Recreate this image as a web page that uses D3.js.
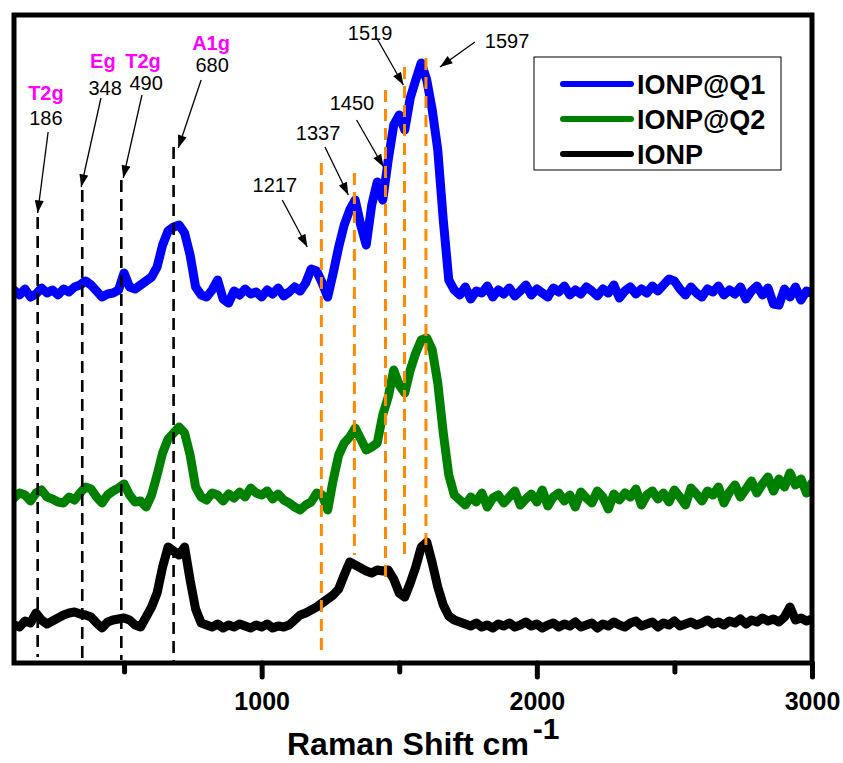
<!DOCTYPE html>
<html>
<head>
<meta charset="utf-8">
<script src="https://cdn.jsdelivr.net/npm/d3@7"></script>
<style>
  body { margin: 0; background: #fff; }
  svg { display: block; font-family: "Liberation Sans", Arial, Helvetica, sans-serif; }
</style>
</head>
<body>
<svg id="chart" width="843" height="763"></svg>
<script>
// Raman shift axis (cm-1)
const wavenumbers = [
  100, 120, 140, 160, 180, 200, 220, 240, 260, 280,
  300, 320, 340, 360, 380, 400, 420, 440, 460, 480,
  500, 520, 540, 560, 580, 600, 620, 640, 660, 680,
  700, 720, 740, 760, 780, 800, 820, 840, 860, 880,
  900, 920, 940, 960, 980, 1000, 1020, 1040, 1060, 1080,
  1100, 1120, 1140, 1160, 1180, 1200, 1220, 1240, 1260, 1280,
  1300, 1320, 1340, 1360, 1380, 1400, 1420, 1440, 1460, 1480,
  1500, 1520, 1540, 1560, 1580, 1600, 1620, 1640, 1660, 1680,
  1700, 1720, 1740, 1760, 1780, 1800, 1820, 1840, 1860, 1880,
  1900, 1920, 1940, 1960, 1980, 2000, 2020, 2040, 2060, 2080,
  2100, 2120, 2140, 2160, 2180, 2200, 2220, 2240, 2260, 2280,
  2300, 2320, 2340, 2360, 2380, 2400, 2420, 2440, 2460, 2480,
  2500, 2520, 2540, 2560, 2580, 2600, 2620, 2640, 2660, 2680,
  2700, 2720, 2740, 2760, 2780, 2800, 2820, 2840, 2860, 2880,
  2900, 2920, 2940, 2960, 2980, 3000
];

// Intensities (a.u., vertically offset spectra)
const ionpQ1 = [
  375, 370, 376, 368, 371, 377, 372, 375, 370, 376,
  373, 378, 380, 384, 380, 374, 368, 371, 372, 375,
  392, 378, 376, 380, 384, 388, 398, 420, 434, 438,
  440, 432, 410, 378, 370, 368, 375, 385, 366, 362,
  374, 370, 376, 371, 373, 368, 375, 371, 377, 369,
  373, 378, 374, 382, 396, 394, 382, 368, 392, 418,
  440, 455, 465, 440, 420, 460, 483, 465, 505, 540,
  550, 535, 567, 585, 602, 585, 555, 515, 445, 385,
  375, 370, 378, 366, 374, 372, 379, 368, 375, 371,
  377, 369, 374, 380, 370, 376, 372, 368, 377, 373,
  379, 370, 375, 371, 378, 374, 369, 376, 372, 380,
  367, 374, 378, 371, 376, 372, 379, 374, 380, 386,
  384, 376, 370, 378, 372, 368, 376, 373, 379, 370,
  375, 371, 378, 366, 374, 379, 370, 377, 361, 360,
  376, 368, 378, 365, 374, 372
];

const ionpQ2 = [
  167, 172, 170, 164, 172, 175, 168, 166, 163, 162,
  168, 165, 172, 178, 176, 168, 162, 170, 174, 177,
  181, 170, 163, 164, 158, 170, 190, 212, 226, 232,
  238, 232, 210, 178, 168, 165, 172, 170, 164, 171,
  167, 173, 168, 177, 172, 170, 174, 166, 171, 165,
  162, 158, 155, 160, 163, 172, 170, 155, 185, 210,
  222, 228, 237, 226, 215, 218, 222, 250, 268, 295,
  280, 272, 295, 312, 325, 327, 315, 282, 232, 190,
  170, 165, 160, 168, 163, 172, 158, 167, 170, 162,
  168, 174, 160, 166, 171, 163, 175, 159, 168, 172,
  164, 170, 158, 173, 167, 162, 174, 168, 156, 171,
  165, 172, 168, 176, 160, 170, 174, 166, 172, 163,
  175, 168, 160, 177, 171, 164, 174, 170, 178, 162,
  173, 180, 168, 176, 184, 172, 181, 188, 174, 186,
  178, 192, 180, 186, 172, 182
];

const ionp = [
  40, 38, 44, 42, 52, 45, 41, 44, 47, 50,
  52, 53, 51, 50, 48, 42, 37, 43, 45, 46,
  47, 45, 40, 38, 48, 58, 72, 98, 118, 114,
  110, 118, 85, 56, 42, 40, 38, 41, 37, 40,
  38, 41, 39, 37, 40, 38, 41, 37, 39, 38,
  40, 45, 50, 52, 55, 58, 62, 66, 70, 76,
  90, 103, 100, 97, 94, 92, 95, 94, 95, 86,
  72, 68, 82, 98, 118, 123, 102, 78, 60, 49,
  45, 43, 41, 39, 42, 38, 40, 37, 41, 39,
  42, 38, 40, 43, 39, 41, 37, 40, 42, 38,
  41, 39, 43, 38, 40, 42, 37, 41, 39, 43,
  40, 38, 42, 44, 39, 41, 43, 38, 42, 40,
  44, 39, 41, 43, 40, 42, 45, 41, 43, 40,
  44, 42, 46, 41, 45, 43, 47, 44, 46, 43,
  48, 58, 45, 47, 44, 46
];

const seriesNames = ["IONP@Q1", "IONP@Q2", "IONP"];
const seriesColors = ["#0000ff", "#008000", "#000000"];

const majorTicks = [1000, 2000, 3000];
const minorTicks = [500, 1500, 2500];

// Iron oxide lattice modes (cm-1) and their symmetry
const latticeModes = [186, 348, 490, 680];
const latticeSymmetry = ["T2g", "Eg", "T2g", "A1g"];

// Bands of the organic coating (cm-1)
const coatingBands = [1217, 1337, 1450, 1519, 1597];

// Placement of the marker lines, labels and arrows, in data units [cm-1, a.u.]
const latticeLayout = [
  { top: 448, bottom: 8, sym: [216, 565], num: [216, 540], from: [224, 533], to: [186, 452] },
  { top: 475, bottom: 5, sym: [423, 597], num: [431, 570], from: [416, 567], to: [344, 478] },
  { top: 485, bottom: 5, sym: [569, 597], num: [580, 575], from: [565, 570], to: [497, 487] },
  { top: 518, bottom: 3, sym: [816, 615], num: [820, 593], from: [780, 585], to: [697, 517] }
];
const coatingLayout = [
  { top: 502, bottom: 10,  num: [1048, 473], from: [1075, 465], to: [1166, 418] },
  { top: 492, bottom: 110, num: [1205, 525], from: [1230, 518], to: [1315, 470] },
  { top: 575, bottom: 85,  num: [1328, 555], from: [1345, 545], to: [1443, 498] },
  { top: 598, bottom: 109, num: [1394, 625], from: [1418, 627], to: [1515, 580] },
  { top: 607, bottom: 118, num: [1892, 617], from: [1775, 623], to: [1648, 598] }
];

const svg = d3.select("#chart");
const box = { left: 14, right: 812, top: 15, bottom: 663 };

const x = d3.scaleLinear().domain([100, 3000]).range([box.left, box.right]);
const y = d3.scaleLinear().domain([2, 650]).range([box.bottom, box.top]);

const defs = svg.append("defs");
defs.append("clipPath").attr("id", "plot-area")
  .append("rect")
  .attr("x", box.left).attr("y", box.top)
  .attr("width", box.right - box.left).attr("height", box.bottom - box.top);

defs.append("marker")
  .attr("id", "arrow-head")
  .attr("viewBox", "0 -5 14 10")
  .attr("refX", 14).attr("refY", 0)
  .attr("markerWidth", 14).attr("markerHeight", 9)
  .attr("markerUnits", "userSpaceOnUse")
  .attr("orient", "auto")
  .append("path")
  .attr("d", "M0,-5L14,0L0,5Z")
  .attr("fill", "#000");

// Spectra
const spectra = [ionpQ1, ionpQ2, ionp];
const line = d3.line()
  .x((d, i) => x(wavenumbers[i]))
  .y(d => y(d));

const plot = svg.append("g").attr("clip-path", "url(#plot-area)");
plot.selectAll("path.spectrum")
  .data(spectra)
  .join("path")
  .attr("class", "spectrum")
  .attr("d", line)
  .attr("fill", "none")
  .attr("stroke", (d, i) => seriesColors[i])
  .attr("stroke-width", 9)
  .attr("stroke-linejoin", "round")
  .attr("stroke-linecap", "round");

// Marker lines for the lattice modes
svg.append("g").selectAll("line")
  .data(latticeModes)
  .join("line")
  .attr("x1", d => x(d)).attr("x2", d => x(d))
  .attr("y1", (d, i) => y(latticeLayout[i].top))
  .attr("y2", (d, i) => y(latticeLayout[i].bottom))
  .attr("stroke", "#000")
  .attr("stroke-width", 2.6)
  .attr("stroke-dasharray", "12 7");

// Marker lines for the coating bands
svg.append("g").selectAll("line")
  .data(coatingBands)
  .join("line")
  .attr("x1", d => x(d)).attr("x2", d => x(d))
  .attr("y1", (d, i) => y(coatingLayout[i].top))
  .attr("y2", (d, i) => y(coatingLayout[i].bottom))
  .attr("stroke", "#ff8a00")
  .attr("stroke-width", 3)
  .attr("stroke-dasharray", "12 7");

// Arrows
const arrows = latticeLayout.concat(coatingLayout);
svg.append("g").selectAll("line")
  .data(arrows)
  .join("line")
  .attr("x1", d => x(d.from[0])).attr("y1", d => y(d.from[1]))
  .attr("x2", d => x(d.to[0])).attr("y2", d => y(d.to[1]))
  .attr("stroke", "#000")
  .attr("stroke-width", 1.3)
  .attr("marker-end", "url(#arrow-head)");

// Labels
const labels = svg.append("g").attr("text-anchor", "middle");
labels.selectAll("text.sym")
  .data(latticeSymmetry)
  .join("text")
  .attr("class", "sym")
  .attr("x", (d, i) => x(latticeLayout[i].sym[0]))
  .attr("y", (d, i) => y(latticeLayout[i].sym[1]))
  .attr("fill", "#ff00ff")
  .attr("font-size", 20)
  .attr("font-weight", "bold")
  .text(d => d);
labels.selectAll("text.mode")
  .data(latticeModes)
  .join("text")
  .attr("class", "mode")
  .attr("x", (d, i) => x(latticeLayout[i].num[0]))
  .attr("y", (d, i) => y(latticeLayout[i].num[1]))
  .attr("font-size", 20)
  .text(d => d);
labels.selectAll("text.band")
  .data(coatingBands)
  .join("text")
  .attr("class", "band")
  .attr("x", (d, i) => x(coatingLayout[i].num[0]))
  .attr("y", (d, i) => y(coatingLayout[i].num[1]))
  .attr("font-size", 20)
  .text(d => d);

// Axis ticks
const axisMajor = d3.axisBottom(x).tickValues(majorTicks).tickSize(14).tickPadding(15).tickFormat(d3.format("d"));
const axisMinor = d3.axisBottom(x).tickValues(minorTicks).tickSize(9).tickFormat("");
[axisMajor, axisMinor].forEach(ax => {
  const g = svg.append("g").attr("transform", `translate(0,${box.bottom})`).call(ax);
  g.select(".domain").remove();
  g.selectAll(".tick line")
    .attr("stroke", "#000").attr("stroke-width", 5).attr("stroke-linecap", "round");
  g.selectAll(".tick text")
    .attr("font-family", "\"Liberation Sans\", Arial, sans-serif")
    .attr("font-size", 25).attr("font-weight", "bold").attr("fill", "#000");
});

// Frame
svg.append("rect")
  .attr("x", box.left).attr("y", box.top)
  .attr("width", box.right - box.left).attr("height", box.bottom - box.top)
  .attr("fill", "none").attr("stroke", "#000").attr("stroke-width", 5);

// Axis title
const title = svg.append("text")
  .attr("x", 287).attr("y", 755)
  .attr("font-size", 32).attr("font-weight", "bold");
title.append("tspan").text("Raman Shift cm");
title.append("tspan").attr("dx", 4).attr("dy", -16).attr("font-size", 30).text("-1");

// Legend
const legend = svg.append("g").attr("transform", "translate(534,57)");
legend.append("rect")
  .attr("width", 247).attr("height", 113)
  .attr("fill", "#fff").attr("stroke", "#000").attr("stroke-width", 1);
const rows = legend.selectAll("g.row")
  .data(seriesNames)
  .join("g")
  .attr("class", "row")
  .attr("transform", (d, i) => `translate(0,${27 + i * 35})`);
rows.append("line")
  .attr("x1", 29).attr("x2", 97)
  .attr("stroke", (d, i) => seriesColors[i])
  .attr("stroke-width", 6).attr("stroke-linecap", "round");
rows.append("text")
  .attr("x", 103).attr("dy", "0.37em")
  .attr("font-size", 27).attr("font-weight", "bold")
  .text(d => d);
</script>
</body>
</html>
